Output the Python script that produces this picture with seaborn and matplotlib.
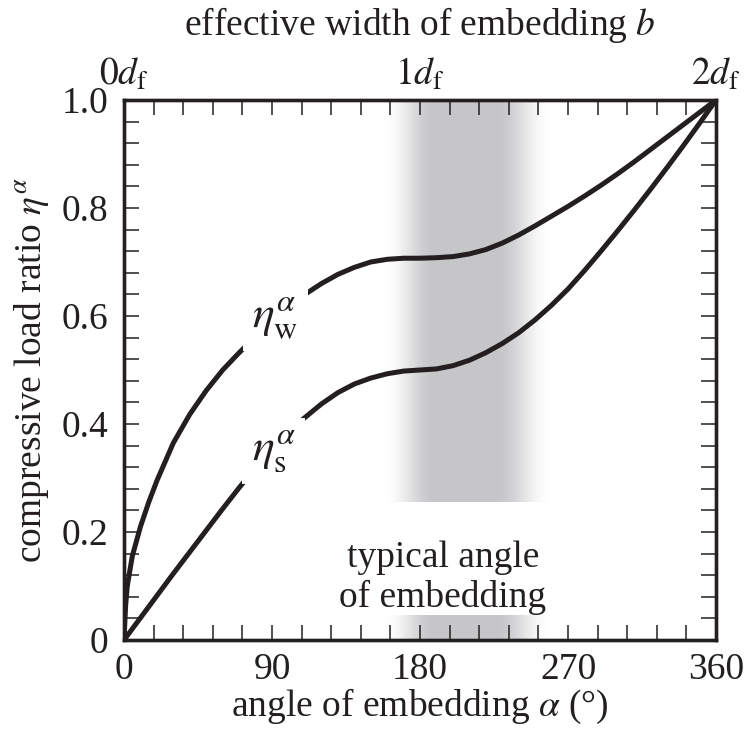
import numpy as np
import pandas as pd
import matplotlib
matplotlib.use("Agg")

import matplotlib.pyplot as plt
import seaborn as sns
from matplotlib.ticker import MultipleLocator, FuncFormatter

# Data
alpha_w = [0, 1, 2, 5, 10, 15, 20, 30, 40, 50, 60, 70, 80, 90, 100, 110,
           120, 130, 140, 150, 160, 170, 180, 190, 200, 210, 220, 230, 240,
           250, 260, 270, 280, 290, 300, 310, 320, 330, 340, 350, 360]
eta_w = [0, 0.065, 0.10, 0.155, 0.21, 0.255, 0.295, 0.365, 0.418, 0.462,
         0.50, 0.532, 0.562, 0.59, 0.617, 0.64, 0.66, 0.677, 0.69, 0.70,
         0.705, 0.707, 0.707, 0.708, 0.710, 0.715, 0.723, 0.735, 0.750,
         0.767, 0.785, 0.803, 0.822, 0.842, 0.863, 0.885, 0.908, 0.931,
         0.954, 0.977, 1.0]

alpha_s = [0, 10, 20, 30, 40, 50, 60, 70, 80, 90, 100, 110, 120, 130, 140,
           150, 160, 170, 180, 190, 200, 210, 220, 230, 240, 250, 260, 270,
           280, 290, 300, 310, 320, 330, 340, 350, 360]
eta_s = [0, 0.041, 0.082, 0.123, 0.163, 0.203, 0.243, 0.282, 0.319, 0.355,
         0.386, 0.412, 0.437, 0.458, 0.474, 0.485, 0.493, 0.498, 0.5, 0.502,
         0.508, 0.518, 0.532, 0.549, 0.569, 0.593, 0.62, 0.65, 0.684, 0.72,
         0.757, 0.795, 0.834, 0.874, 0.915, 0.957, 1.0]

top_ticks = [0, 180, 360]
top_labels = [r"$0d_\mathrm{f}$", r"$1d_\mathrm{f}$", r"$2d_\mathrm{f}$"]

band = (159, 259)  # typical angle of embedding

ink = "#231f20"

sns.set_style("ticks")
plt.rcParams["font.family"] = ["Liberation Serif", "DejaVu Serif"]
plt.rcParams["mathtext.fontset"] = "stix"
plt.rcParams["font.size"] = 27
plt.rcParams["text.color"] = ink
plt.rcParams["axes.labelcolor"] = ink
plt.rcParams["xtick.color"] = ink
plt.rcParams["ytick.color"] = ink
plt.rcParams["xtick.labelsize"] = 27
plt.rcParams["ytick.labelsize"] = 27
plt.rcParams["axes.labelsize"] = 27

fig = plt.figure(figsize=(7.44, 7.30), dpi=100)
ax = fig.add_axes([0.1667, 0.1233, 0.7957, 0.7397])

# shaded band with soft edges
xs = np.linspace(band[0], band[1], 300)
t_in = np.clip((xs - band[0]) / 30, 0, 1)
t_out = np.clip((band[1] - xs) / 32, 0, 1)
prof = np.minimum(t_in * t_in * (3 - 2 * t_in), t_out * t_out * (3 - 2 * t_out))
rgba = np.zeros((1, xs.size, 4))
rgba[..., 0] = 0.78
rgba[..., 1] = 0.78
rgba[..., 2] = 0.79
rgba[..., 3] = prof
for y0, y1 in [(0.255, 1.0), (0.0, 0.045)]:
    ax.imshow(rgba, extent=[band[0], band[1], y0, y1], aspect="auto",
              interpolation="bilinear", zorder=0)

df_w = pd.DataFrame({"alpha": alpha_w, "eta": eta_w})
df_s = pd.DataFrame({"alpha": alpha_s, "eta": eta_s})

for d in (df_w, df_s):
    sns.lineplot(data=d, x="alpha", y="eta", color=ink, lw=3.6, ax=ax,
                 zorder=3, sort=False, solid_joinstyle="round",
                 solid_capstyle="butt")

box = dict(facecolor="white", edgecolor="none", pad=7)
ax.text(92, 0.595, r"$\eta^{\alpha}_{\mathrm{w}}$", ha="center", va="center",
        fontsize=33, bbox=box, zorder=4)
ax.text(91, 0.35, r"$\eta^{\alpha}_{\mathrm{s}}$", ha="center", va="center",
        fontsize=33, bbox=box, zorder=4)

ax.text(194, 0.115, "typical angle\nof embedding", ha="center", va="center",
        multialignment="center", linespacing=1.2, zorder=4)

ax.set_xlim(0, 360)
ax.set_ylim(0, 1)
ax.xaxis.set_major_locator(MultipleLocator(90))
ax.xaxis.set_minor_locator(MultipleLocator(18))
ax.yaxis.set_major_locator(MultipleLocator(0.2))
ax.yaxis.set_minor_locator(MultipleLocator(0.04))
ax.yaxis.set_major_formatter(FuncFormatter(lambda v, p: "0" if abs(v) < 1e-9 else f"{v:.1f}"))

ax.tick_params(which="both", direction="in", length=11, width=1.1,
               right=True, top=False)
ax.tick_params(axis="y", pad=11)
ax.tick_params(axis="x", pad=9)

ax.set_xlabel(r"angle of embedding $\alpha$ (°)", labelpad=0)
ax.set_ylabel(r"compressive load ratio $\eta^{\alpha}$", labelpad=8)

ax2 = ax.twiny()
ax2.set_xlim(0, 360)
ax2.set_xticks(top_ticks)
ax2.set_xticklabels(top_labels)
ax2.xaxis.set_minor_locator(MultipleLocator(18))
ax2.tick_params(which="both", direction="in", length=11, width=1.1,
                color=ink, pad=5)
ax2.set_xlabel(r"effective width of embedding $b$", labelpad=16)

for a in (ax, ax2):
    for sp in a.spines.values():
        sp.set_linewidth(2.4)
        sp.set_color(ink)

plt.savefig("out.png", dpi=100)
